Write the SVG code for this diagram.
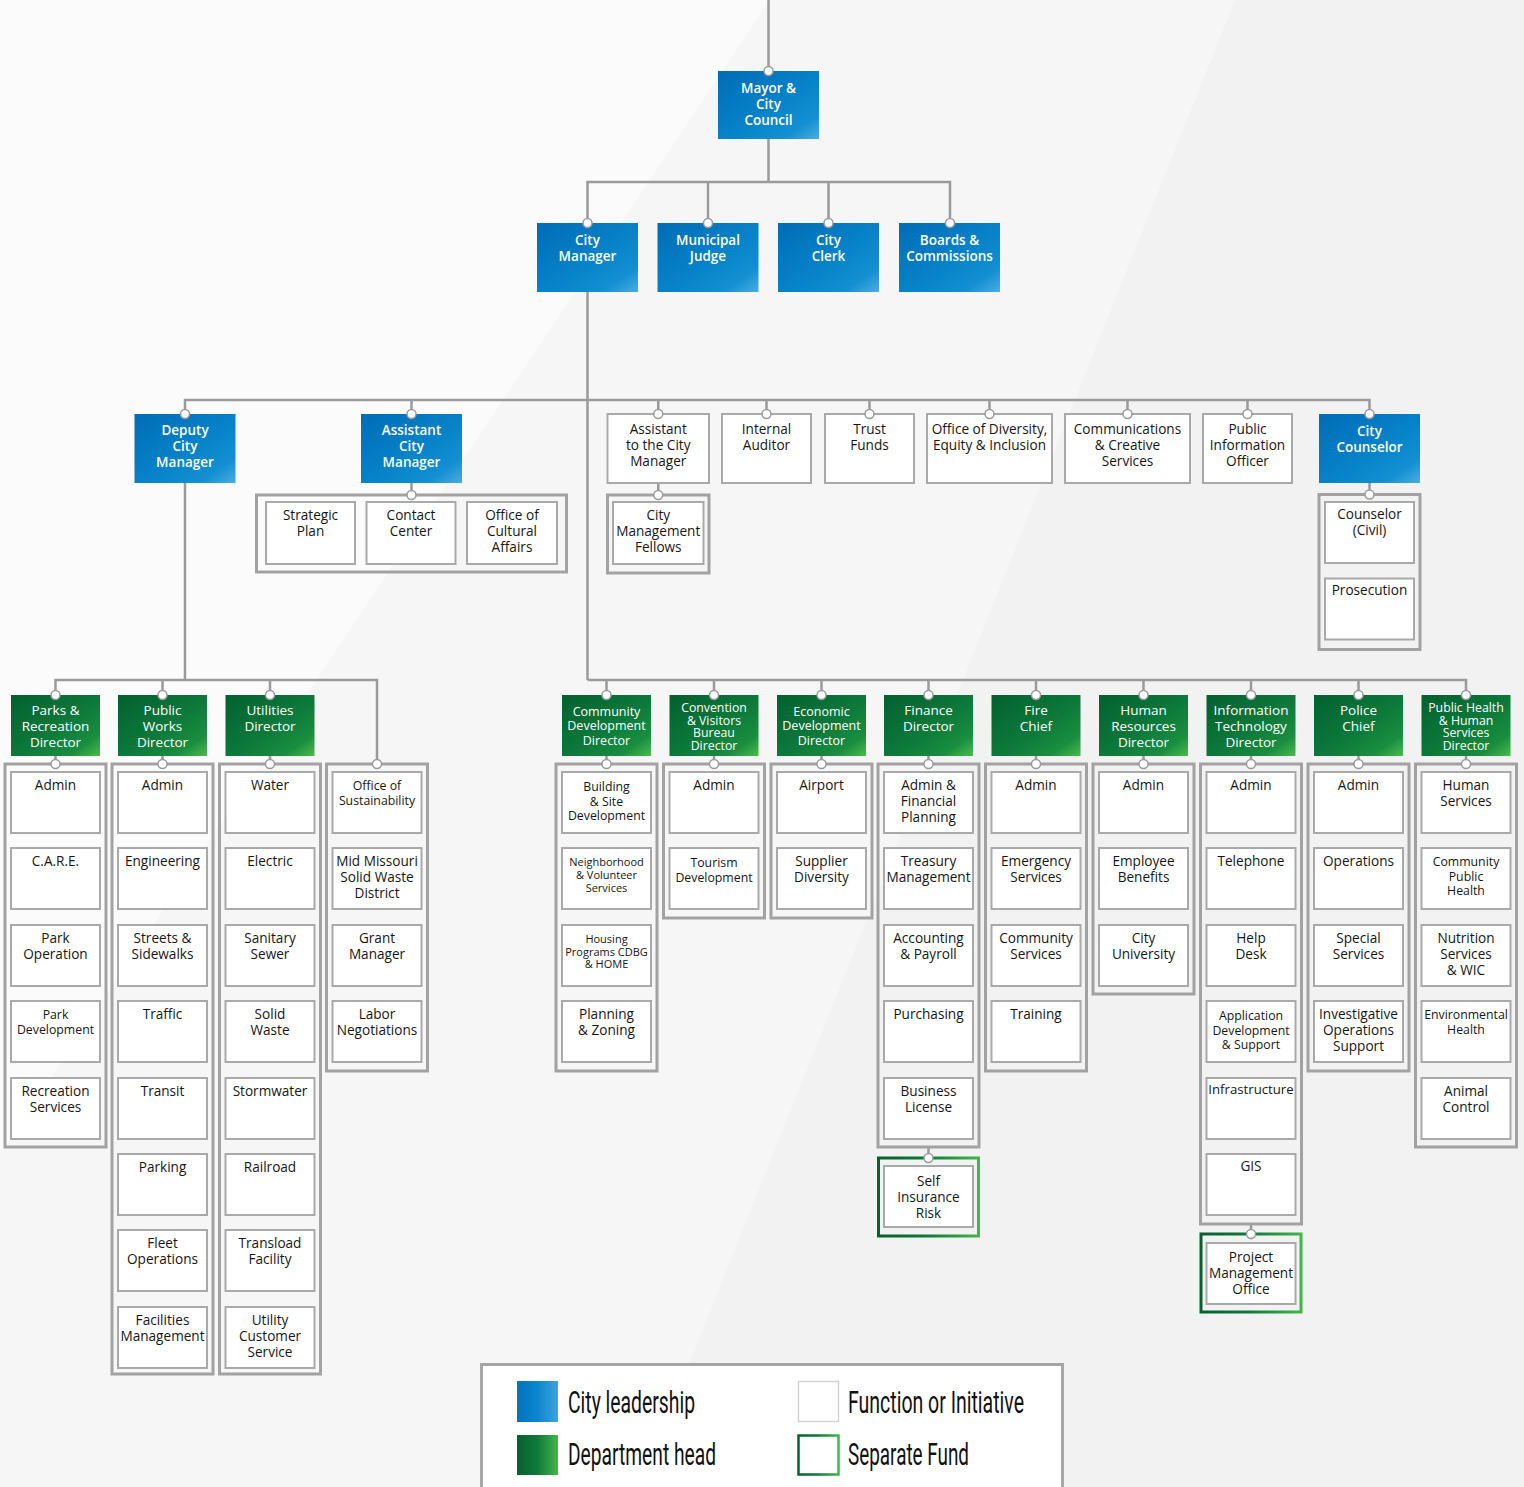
<svg xmlns="http://www.w3.org/2000/svg" width="1524" height="1487" viewBox="0 0 1524 1487">
<defs>
<linearGradient id="gb" x1="0" y1="0" x2="1" y2="1">
<stop offset="0" stop-color="#006cb6"/><stop offset="0.55" stop-color="#0783c9"/><stop offset="0.82" stop-color="#1390d2"/><stop offset="1" stop-color="#4badE2"/>
</linearGradient>
<linearGradient id="gg" x1="0" y1="0" x2="1" y2="1">
<stop offset="0" stop-color="#03602f"/><stop offset="0.55" stop-color="#0d7a3b"/><stop offset="0.82" stop-color="#1a8e3f"/><stop offset="1" stop-color="#4cbb4e"/>
</linearGradient>
<linearGradient id="gbh" x1="0" y1="0" x2="1" y2="0">
<stop offset="0" stop-color="#0073be"/><stop offset="0.5" stop-color="#0a86cc"/><stop offset="1" stop-color="#3fa3de"/>
</linearGradient>
<linearGradient id="ggh" x1="0" y1="0" x2="1" y2="0">
<stop offset="0" stop-color="#06612f"/><stop offset="0.5" stop-color="#0f7a3a"/><stop offset="1" stop-color="#42b64b"/>
</linearGradient>
<style>
.ln{stroke:#9a9a9a;stroke-width:2.5;fill:none}
.dot{fill:#fff;stroke:#9a9a9a;stroke-width:1.5}
.blue{fill:url(#gb)}
.green{fill:url(#gg)}
.box{fill:#fff;stroke:#a9a9a9;stroke-width:2}
.cont{fill:none;stroke:#a2a2a2;stroke-width:3}
.fund{fill:none;stroke:url(#ggh);stroke-width:3}
text{font-family:"Open Sans","Noto Sans","DejaVu Sans",sans-serif;text-anchor:middle}
.hb{fill:#fff;font-size:13.5px;font-weight:600}
.hg{fill:#fff;font-size:13.5px;font-weight:500}
.hg2{fill:#fff;font-size:12.5px;font-weight:500}
.hg3{fill:#fff;font-size:12.3px;font-weight:500}
.t{fill:#161616;font-size:13.6px;font-weight:500}
.s{fill:#161616;font-size:12.3px;font-weight:500}
.xs{fill:#161616;font-size:11px;font-weight:500}
.lg{font-family:"Roboto","Liberation Sans",sans-serif;text-anchor:start;font-size:31px;fill:#111}
</style>
</defs>

<g id="background">
<rect x="0" y="0" width="1524" height="1487" fill="#f2f2f2"/>
<polygon points="770,0 1235,0 640,1487 0,1487 0,1155" fill="#f6f6f6"/>
<polygon points="0,0 770,0 0,1155" fill="#fbfbfb"/>
</g>

<g id="connectors">
<line class="ln" x1="768.5" y1="0" x2="768.5" y2="71"/>
<line class="ln" x1="768.5" y1="139" x2="768.5" y2="182"/>
<polyline class="ln" points="587.5,223 587.5,182 950,182 950,223"/>
<line class="ln" x1="708" y1="182" x2="708" y2="223"/>
<line class="ln" x1="828.5" y1="182" x2="828.5" y2="223"/>
<line class="ln" x1="587.5" y1="292" x2="587.5" y2="680"/>
<polyline class="ln" points="185,414 185,400 1369.5,400 1369.5,414"/>
<line class="ln" x1="411.5" y1="400" x2="411.5" y2="414"/>
<line class="ln" x1="658.25" y1="400" x2="658.25" y2="414"/>
<line class="ln" x1="766.5" y1="400" x2="766.5" y2="414"/>
<line class="ln" x1="869.5" y1="400" x2="869.5" y2="414"/>
<line class="ln" x1="989.5" y1="400" x2="989.5" y2="414"/>
<line class="ln" x1="1127.5" y1="400" x2="1127.5" y2="414"/>
<line class="ln" x1="1247.5" y1="400" x2="1247.5" y2="414"/>
<line class="ln" x1="411.5" y1="483" x2="411.5" y2="495"/>
<line class="ln" x1="658.25" y1="483" x2="658.25" y2="495"/>
<line class="ln" x1="1369.5" y1="483" x2="1369.5" y2="494.5"/>
<line class="ln" x1="185" y1="483" x2="185" y2="680"/>
<polyline class="ln" points="55.5,695 55.5,680 377,680 377,764"/>
<line class="ln" x1="162.5" y1="680" x2="162.5" y2="695"/>
<line class="ln" x1="270" y1="680" x2="270" y2="695"/>
<polyline class="ln" points="587.5,680 1466,680 1466,695"/>
<line class="ln" x1="606.5" y1="680" x2="606.5" y2="695"/>
<line class="ln" x1="714" y1="680" x2="714" y2="695"/>
<line class="ln" x1="821.5" y1="680" x2="821.5" y2="695"/>
<line class="ln" x1="928.5" y1="680" x2="928.5" y2="695"/>
<line class="ln" x1="1036" y1="680" x2="1036" y2="695"/>
<line class="ln" x1="1143.5" y1="680" x2="1143.5" y2="695"/>
<line class="ln" x1="1251" y1="680" x2="1251" y2="695"/>
<line class="ln" x1="1358.5" y1="680" x2="1358.5" y2="695"/>
<line class="ln" x1="55.5" y1="756" x2="55.5" y2="764"/>
<line class="ln" x1="162.5" y1="756" x2="162.5" y2="764"/>
<line class="ln" x1="270" y1="756" x2="270" y2="764"/>
<line class="ln" x1="606.5" y1="756" x2="606.5" y2="764"/>
<line class="ln" x1="714" y1="756" x2="714" y2="764"/>
<line class="ln" x1="821.5" y1="756" x2="821.5" y2="764"/>
<line class="ln" x1="928.5" y1="756" x2="928.5" y2="764"/>
<line class="ln" x1="1036" y1="756" x2="1036" y2="764"/>
<line class="ln" x1="1143.5" y1="756" x2="1143.5" y2="764"/>
<line class="ln" x1="1251" y1="756" x2="1251" y2="764"/>
<line class="ln" x1="1358.5" y1="756" x2="1358.5" y2="764"/>
<line class="ln" x1="1466" y1="756" x2="1466" y2="764"/>
<line class="ln" x1="928.5" y1="1147" x2="928.5" y2="1158"/>
<line class="ln" x1="1251" y1="1224" x2="1251" y2="1234"/>
</g>

<g id="mayor"><rect class="blue" x="718" y="71" width="101" height="68"/>
<text class="hb"><tspan x="768.5" y="93">Mayor &amp;</tspan><tspan x="768.5" y="109">City</tspan><tspan x="768.5" y="125">Council</tspan></text></g>
<g id="city-manager"><rect class="blue" x="537" y="223" width="101" height="69"/>
<text class="hb"><tspan x="587.5" y="245">City</tspan><tspan x="587.5" y="261">Manager</tspan></text></g>
<g id="municipal-judge"><rect class="blue" x="657.5" y="223" width="101" height="69"/>
<text class="hb"><tspan x="708" y="245">Municipal</tspan><tspan x="708" y="261">Judge</tspan></text></g>
<g id="city-clerk"><rect class="blue" x="778" y="223" width="101" height="69"/>
<text class="hb"><tspan x="828.5" y="245">City</tspan><tspan x="828.5" y="261">Clerk</tspan></text></g>
<g id="boards"><rect class="blue" x="899" y="223" width="101" height="69"/>
<text class="hb"><tspan x="949.5" y="245">Boards &amp;</tspan><tspan x="949.5" y="261">Commissions</tspan></text></g>

<g id="deputy-cm"><rect class="blue" x="134.5" y="414" width="101" height="69"/>
<text class="hb"><tspan x="185" y="435">Deputy</tspan><tspan x="185" y="451">City</tspan><tspan x="185" y="467">Manager</tspan></text></g>
<g id="assistant-cm"><rect class="blue" x="361" y="414" width="101" height="69"/>
<text class="hb"><tspan x="411.5" y="435">Assistant</tspan><tspan x="411.5" y="451">City</tspan><tspan x="411.5" y="467">Manager</tspan></text></g>
<g id="acm-functions"><rect class="cont" x="256.5" y="495" width="310" height="77"/>
<rect class="box" x="266" y="502" width="89" height="62"/><text class="t"><tspan x="310.5" y="519.5">Strategic</tspan><tspan x="310.5" y="535.5">Plan</tspan></text>
<rect class="box" x="366.5" y="502" width="89" height="62"/><text class="t"><tspan x="411" y="519.5">Contact</tspan><tspan x="411" y="535.5">Center</tspan></text>
<rect class="box" x="467" y="502" width="90" height="62"/><text class="t"><tspan x="512" y="519.5">Office of</tspan><tspan x="512" y="535.5">Cultural</tspan><tspan x="512" y="551.5">Affairs</tspan></text></g>

<g id="asst-to-cm"><rect class="box" x="607.5" y="414" width="101.5" height="69"/>
<text class="t"><tspan x="658.25" y="434">Assistant</tspan><tspan x="658.25" y="450">to the City</tspan><tspan x="658.25" y="466">Manager</tspan></text></g>
<g id="fellows"><rect class="cont" x="607.5" y="495" width="101.5" height="78"/>
<rect class="box" x="613" y="502" width="90.5" height="62"/><text class="t"><tspan x="658.25" y="519.5">City</tspan><tspan x="658.25" y="535.5">Management</tspan><tspan x="658.25" y="551.5">Fellows</tspan></text></g>
<g id="internal-auditor"><rect class="box" x="722" y="414" width="89" height="69"/>
<text class="t"><tspan x="766.5" y="434">Internal</tspan><tspan x="766.5" y="450">Auditor</tspan></text></g>
<g id="trust-funds"><rect class="box" x="825" y="414" width="89" height="69"/>
<text class="t"><tspan x="869.5" y="434">Trust</tspan><tspan x="869.5" y="450">Funds</tspan></text></g>
<g id="odei"><rect class="box" x="927" y="414" width="125" height="69"/>
<text class="t"><tspan x="989.5" y="434">Office of Diversity,</tspan><tspan x="989.5" y="450">Equity &amp; Inclusion</tspan></text></g>
<g id="communications"><rect class="box" x="1065" y="414" width="125" height="69"/>
<text class="t"><tspan x="1127.5" y="434">Communications</tspan><tspan x="1127.5" y="450">&amp; Creative</tspan><tspan x="1127.5" y="466">Services</tspan></text></g>
<g id="pio"><rect class="box" x="1203" y="414" width="89" height="69"/>
<text class="t"><tspan x="1247.5" y="434">Public</tspan><tspan x="1247.5" y="450">Information</tspan><tspan x="1247.5" y="466">Officer</tspan></text></g>
<g id="city-counselor"><rect class="blue" x="1319" y="414" width="101" height="69"/>
<text class="hb"><tspan x="1369.5" y="435.5">City</tspan><tspan x="1369.5" y="451.5">Counselor</tspan></text></g>
<g id="counselor-functions"><rect class="cont" x="1319" y="494.5" width="101" height="155"/>
<rect class="box" x="1325" y="502" width="89" height="61"/><text class="t"><tspan x="1369.5" y="519">Counselor</tspan><tspan x="1369.5" y="535">(Civil)</tspan></text>
<rect class="box" x="1325" y="578.5" width="89" height="61"/><text class="t" x="1369.5" y="595">Prosecution</text></g>

<!-- Left departments -->
<g id="parks-dir"><rect class="green" x="11" y="695" width="89" height="61"/>
<text class="hg"><tspan x="55.5" y="715">Parks &amp;</tspan><tspan x="55.5" y="731">Recreation</tspan><tspan x="55.5" y="747">Director</tspan></text></g>
<g id="parks-functions"><rect class="cont" x="5" y="764" width="101" height="383"/>
<rect class="box" x="11" y="772" width="89" height="61"/><text class="t" x="55.5" y="790">Admin</text>
<rect class="box" x="11" y="848" width="89" height="61"/><text class="t" x="55.5" y="866">C.A.R.E.</text>
<rect class="box" x="11" y="925" width="89" height="61"/><text class="t"><tspan x="55.5" y="943">Park</tspan><tspan x="55.5" y="959">Operation</tspan></text>
<rect class="box" x="11" y="1001" width="89" height="61"/><text class="s"><tspan x="55.5" y="1019">Park</tspan><tspan x="55.5" y="1033.5">Development</tspan></text>
<rect class="box" x="11" y="1078" width="89" height="61"/><text class="t"><tspan x="55.5" y="1096">Recreation</tspan><tspan x="55.5" y="1112">Services</tspan></text></g>

<g id="public-works-dir"><rect class="green" x="118" y="695" width="89" height="61"/>
<text class="hg"><tspan x="162.5" y="715">Public</tspan><tspan x="162.5" y="731">Works</tspan><tspan x="162.5" y="747">Director</tspan></text></g>
<g id="public-works-functions"><rect class="cont" x="112" y="764" width="101" height="610"/>
<rect class="box" x="118" y="772" width="89" height="61"/><text class="t" x="162.5" y="790">Admin</text>
<rect class="box" x="118" y="848" width="89" height="61"/><text class="t" x="162.5" y="866">Engineering</text>
<rect class="box" x="118" y="925" width="89" height="61"/><text class="t"><tspan x="162.5" y="943">Streets &amp;</tspan><tspan x="162.5" y="959">Sidewalks</tspan></text>
<rect class="box" x="118" y="1001" width="89" height="61"/><text class="t" x="162.5" y="1019">Traffic</text>
<rect class="box" x="118" y="1078" width="89" height="61"/><text class="t" x="162.5" y="1096">Transit</text>
<rect class="box" x="118" y="1154" width="89" height="61"/><text class="t" x="162.5" y="1172">Parking</text>
<rect class="box" x="118" y="1230" width="89" height="61"/><text class="t"><tspan x="162.5" y="1248">Fleet</tspan><tspan x="162.5" y="1264">Operations</tspan></text>
<rect class="box" x="118" y="1307" width="89" height="61"/><text class="t"><tspan x="162.5" y="1325">Facilities</tspan><tspan x="162.5" y="1341">Management</tspan></text></g>

<g id="utilities-dir"><rect class="green" x="225.5" y="695" width="89" height="61"/>
<text class="hg"><tspan x="270" y="715">Utilities</tspan><tspan x="270" y="731">Director</tspan></text></g>
<g id="utilities-functions"><rect class="cont" x="219.5" y="764" width="101" height="610"/>
<rect class="box" x="225.5" y="772" width="89" height="61"/><text class="t" x="270" y="790">Water</text>
<rect class="box" x="225.5" y="848" width="89" height="61"/><text class="t" x="270" y="866">Electric</text>
<rect class="box" x="225.5" y="925" width="89" height="61"/><text class="t"><tspan x="270" y="943">Sanitary</tspan><tspan x="270" y="959">Sewer</tspan></text>
<rect class="box" x="225.5" y="1001" width="89" height="61"/><text class="t"><tspan x="270" y="1019">Solid</tspan><tspan x="270" y="1035">Waste</tspan></text>
<rect class="box" x="225.5" y="1078" width="89" height="61"/><text class="t" x="270" y="1096">Stormwater</text>
<rect class="box" x="225.5" y="1154" width="89" height="61"/><text class="t" x="270" y="1172">Railroad</text>
<rect class="box" x="225.5" y="1230" width="89" height="61"/><text class="t"><tspan x="270" y="1248">Transload</tspan><tspan x="270" y="1264">Facility</tspan></text>
<rect class="box" x="225.5" y="1307" width="89" height="61"/><text class="t"><tspan x="270" y="1325">Utility</tspan><tspan x="270" y="1341">Customer</tspan><tspan x="270" y="1357">Service</tspan></text></g>

<g id="dcm-functions"><rect class="cont" x="326.5" y="764" width="101" height="307"/>
<rect class="box" x="332.5" y="772" width="89" height="61"/><text class="s"><tspan x="377" y="790">Office of</tspan><tspan x="377" y="805">Sustainability</tspan></text>
<rect class="box" x="332.5" y="848" width="89" height="61"/><text class="t"><tspan x="377" y="866">Mid Missouri</tspan><tspan x="377" y="882">Solid Waste</tspan><tspan x="377" y="898">District</tspan></text>
<rect class="box" x="332.5" y="925" width="89" height="61"/><text class="t"><tspan x="377" y="943">Grant</tspan><tspan x="377" y="959">Manager</tspan></text>
<rect class="box" x="332.5" y="1001" width="89" height="61"/><text class="t"><tspan x="377" y="1019">Labor</tspan><tspan x="377" y="1035">Negotiations</tspan></text></g>

<!-- Right departments -->
<g id="community-dev-dir"><rect class="green" x="562" y="695" width="89" height="61"/>
<text class="hg2"><tspan x="606.5" y="715.5">Community</tspan><tspan x="606.5" y="730.3">Development</tspan><tspan x="606.5" y="745">Director</tspan></text></g>
<g id="community-dev-functions"><rect class="cont" x="556" y="764" width="101" height="307"/>
<rect class="box" x="562" y="772" width="89" height="61"/><text class="s"><tspan x="606.5" y="791">Building</tspan><tspan x="606.5" y="805.5">&amp; Site</tspan><tspan x="606.5" y="820">Development</tspan></text>
<rect class="box" x="562" y="848" width="89" height="61"/><text class="xs"><tspan x="606.5" y="866">Neighborhood</tspan><tspan x="606.5" y="879">&amp; Volunteer</tspan><tspan x="606.5" y="892">Services</tspan></text>
<rect class="box" x="562" y="925" width="89" height="61"/><text class="xs"><tspan x="606.5" y="943">Housing</tspan><tspan x="606.5" y="955.5">Programs CDBG</tspan><tspan x="606.5" y="968">&amp; HOME</tspan></text>
<rect class="box" x="562" y="1001" width="89" height="61"/><text class="t"><tspan x="606.5" y="1019">Planning</tspan><tspan x="606.5" y="1035">&amp; Zoning</tspan></text></g>

<g id="cvb-dir"><rect class="green" x="669.5" y="695" width="89" height="61"/>
<text class="hg3"><tspan x="714" y="712">Convention</tspan><tspan x="714" y="724.5">&amp; Visitors</tspan><tspan x="714" y="737">Bureau</tspan><tspan x="714" y="749.5">Director</tspan></text></g>
<g id="cvb-functions"><rect class="cont" x="663.5" y="764" width="101" height="154"/>
<rect class="box" x="669.5" y="772" width="89" height="61"/><text class="t" x="714" y="790">Admin</text>
<rect class="box" x="669.5" y="848" width="89" height="61"/><text class="s"><tspan x="714" y="867">Tourism</tspan><tspan x="714" y="881.5">Development</tspan></text></g>

<g id="econ-dev-dir"><rect class="green" x="777" y="695" width="89" height="61"/>
<text class="hg2"><tspan x="821.5" y="715.5">Economic</tspan><tspan x="821.5" y="730.3">Development</tspan><tspan x="821.5" y="745">Director</tspan></text></g>
<g id="econ-dev-functions"><rect class="cont" x="771" y="764" width="101" height="154"/>
<rect class="box" x="777" y="772" width="89" height="61"/><text class="t" x="821.5" y="790">Airport</text>
<rect class="box" x="777" y="848" width="89" height="61"/><text class="t"><tspan x="821.5" y="866">Supplier</tspan><tspan x="821.5" y="882">Diversity</tspan></text></g>

<g id="finance-dir"><rect class="green" x="884" y="695" width="89" height="61"/>
<text class="hg"><tspan x="928.5" y="715">Finance</tspan><tspan x="928.5" y="731">Director</tspan></text></g>
<g id="finance-functions"><rect class="cont" x="878" y="764" width="101" height="383"/>
<rect class="box" x="884" y="772" width="89" height="61"/><text class="t"><tspan x="928.5" y="790">Admin &amp;</tspan><tspan x="928.5" y="806">Financial</tspan><tspan x="928.5" y="822">Planning</tspan></text>
<rect class="box" x="884" y="848" width="89" height="61"/><text class="t"><tspan x="928.5" y="866">Treasury</tspan><tspan x="928.5" y="882">Management</tspan></text>
<rect class="box" x="884" y="925" width="89" height="61"/><text class="t"><tspan x="928.5" y="943">Accounting</tspan><tspan x="928.5" y="959">&amp; Payroll</tspan></text>
<rect class="box" x="884" y="1001" width="89" height="61"/><text class="t" x="928.5" y="1019">Purchasing</text>
<rect class="box" x="884" y="1078" width="89" height="61"/><text class="t"><tspan x="928.5" y="1096">Business</tspan><tspan x="928.5" y="1112">License</tspan></text></g>
<g id="self-insurance"><rect class="fund" x="878.5" y="1158" width="100" height="78"/>
<rect class="box" x="884" y="1166" width="89" height="61"/><text class="t"><tspan x="928.5" y="1186">Self</tspan><tspan x="928.5" y="1202">Insurance</tspan><tspan x="928.5" y="1218">Risk</tspan></text></g>

<g id="fire-chief"><rect class="green" x="991.5" y="695" width="89" height="61"/>
<text class="hg"><tspan x="1036" y="715">Fire</tspan><tspan x="1036" y="731">Chief</tspan></text></g>
<g id="fire-functions"><rect class="cont" x="985.5" y="764" width="101" height="307"/>
<rect class="box" x="991.5" y="772" width="89" height="61"/><text class="t" x="1036" y="790">Admin</text>
<rect class="box" x="991.5" y="848" width="89" height="61"/><text class="t"><tspan x="1036" y="866">Emergency</tspan><tspan x="1036" y="882">Services</tspan></text>
<rect class="box" x="991.5" y="925" width="89" height="61"/><text class="t"><tspan x="1036" y="943">Community</tspan><tspan x="1036" y="959">Services</tspan></text>
<rect class="box" x="991.5" y="1001" width="89" height="61"/><text class="t" x="1036" y="1019">Training</text></g>

<g id="hr-dir"><rect class="green" x="1099" y="695" width="89" height="61"/>
<text class="hg"><tspan x="1143.5" y="715">Human</tspan><tspan x="1143.5" y="731">Resources</tspan><tspan x="1143.5" y="747">Director</tspan></text></g>
<g id="hr-functions"><rect class="cont" x="1093" y="764" width="101" height="230"/>
<rect class="box" x="1099" y="772" width="89" height="61"/><text class="t" x="1143.5" y="790">Admin</text>
<rect class="box" x="1099" y="848" width="89" height="61"/><text class="t"><tspan x="1143.5" y="866">Employee</tspan><tspan x="1143.5" y="882">Benefits</tspan></text>
<rect class="box" x="1099" y="925" width="89" height="61"/><text class="t"><tspan x="1143.5" y="943">City</tspan><tspan x="1143.5" y="959">University</tspan></text></g>

<g id="it-dir"><rect class="green" x="1206.5" y="695" width="89" height="61"/>
<text class="hg"><tspan x="1251" y="715">Information</tspan><tspan x="1251" y="731">Technology</tspan><tspan x="1251" y="747">Director</tspan></text></g>
<g id="it-functions"><rect class="cont" x="1200.5" y="764" width="101" height="460"/>
<rect class="box" x="1206.5" y="772" width="89" height="61"/><text class="t" x="1251" y="790">Admin</text>
<rect class="box" x="1206.5" y="848" width="89" height="61"/><text class="t" x="1251" y="866">Telephone</text>
<rect class="box" x="1206.5" y="925" width="89" height="61"/><text class="t"><tspan x="1251" y="943">Help</tspan><tspan x="1251" y="959">Desk</tspan></text>
<rect class="box" x="1206.5" y="1001" width="89" height="61"/><text class="s"><tspan x="1251" y="1020">Application</tspan><tspan x="1251" y="1034.5">Development</tspan><tspan x="1251" y="1049">&amp; Support</tspan></text>
<rect class="box" x="1206.5" y="1078" width="89" height="61"/><text class="t" x="1251" y="1094" style="font-size:13.2px">Infrastructure</text>
<rect class="box" x="1206.5" y="1154" width="89" height="61"/><text class="t" x="1251" y="1171">GIS</text></g>
<g id="pmo"><rect class="fund" x="1201" y="1234" width="100" height="78"/>
<rect class="box" x="1206.5" y="1243" width="89" height="61"/><text class="t"><tspan x="1251" y="1262">Project</tspan><tspan x="1251" y="1278">Management</tspan><tspan x="1251" y="1294">Office</tspan></text></g>

<g id="police-chief"><rect class="green" x="1314" y="695" width="89" height="61"/>
<text class="hg"><tspan x="1358.5" y="715">Police</tspan><tspan x="1358.5" y="731">Chief</tspan></text></g>
<g id="police-functions"><rect class="cont" x="1308" y="764" width="101" height="307"/>
<rect class="box" x="1314" y="772" width="89" height="61"/><text class="t" x="1358.5" y="790">Admin</text>
<rect class="box" x="1314" y="848" width="89" height="61"/><text class="t" x="1358.5" y="866">Operations</text>
<rect class="box" x="1314" y="925" width="89" height="61"/><text class="t"><tspan x="1358.5" y="943">Special</tspan><tspan x="1358.5" y="959">Services</tspan></text>
<rect class="box" x="1314" y="1001" width="89" height="61"/><text class="t"><tspan x="1358.5" y="1019">Investigative</tspan><tspan x="1358.5" y="1035">Operations</tspan><tspan x="1358.5" y="1051">Support</tspan></text></g>

<g id="public-health-dir"><rect class="green" x="1421.5" y="695" width="89" height="61"/>
<text class="hg3"><tspan x="1466" y="712">Public Health</tspan><tspan x="1466" y="724.5">&amp; Human</tspan><tspan x="1466" y="737">Services</tspan><tspan x="1466" y="749.5">Director</tspan></text></g>
<g id="public-health-functions"><rect class="cont" x="1415.5" y="764" width="101" height="383"/>
<rect class="box" x="1421.5" y="772" width="89" height="61"/><text class="t"><tspan x="1466" y="790">Human</tspan><tspan x="1466" y="806">Services</tspan></text>
<rect class="box" x="1421.5" y="848" width="89" height="61"/><text class="s"><tspan x="1466" y="866">Community</tspan><tspan x="1466" y="880.5">Public</tspan><tspan x="1466" y="895">Health</tspan></text>
<rect class="box" x="1421.5" y="925" width="89" height="61"/><text class="t"><tspan x="1466" y="943">Nutrition</tspan><tspan x="1466" y="959">Services</tspan><tspan x="1466" y="975">&amp; WIC</tspan></text>
<rect class="box" x="1421.5" y="1001" width="89" height="61"/><text class="s"><tspan x="1466" y="1019">Environmental</tspan><tspan x="1466" y="1033.5">Health</tspan></text>
<rect class="box" x="1421.5" y="1078" width="89" height="61"/><text class="t"><tspan x="1466" y="1096">Animal</tspan><tspan x="1466" y="1112">Control</tspan></text></g>

<g id="connector-dots">
<circle class="dot" cx="768.5" cy="71" r="4.5"/>
<circle class="dot" cx="587.5" cy="223" r="4.5"/><circle class="dot" cx="708" cy="223" r="4.5"/><circle class="dot" cx="828.5" cy="223" r="4.5"/><circle class="dot" cx="950" cy="223" r="4.5"/>
<circle class="dot" cx="185" cy="414" r="4.5"/><circle class="dot" cx="411.5" cy="414" r="4.5"/><circle class="dot" cx="658.25" cy="414" r="4.5"/><circle class="dot" cx="766.5" cy="414" r="4.5"/><circle class="dot" cx="869.5" cy="414" r="4.5"/><circle class="dot" cx="989.5" cy="414" r="4.5"/><circle class="dot" cx="1127.5" cy="414" r="4.5"/><circle class="dot" cx="1247.5" cy="414" r="4.5"/><circle class="dot" cx="1369.5" cy="414" r="4.5"/>
<circle class="dot" cx="411.5" cy="495" r="4.5"/><circle class="dot" cx="658.25" cy="495" r="4.5"/><circle class="dot" cx="1369.5" cy="494.5" r="4.5"/>
<circle class="dot" cx="55.5" cy="695" r="4.5"/><circle class="dot" cx="162.5" cy="695" r="4.5"/><circle class="dot" cx="270" cy="695" r="4.5"/>
<circle class="dot" cx="606.5" cy="695" r="4.5"/><circle class="dot" cx="714" cy="695" r="4.5"/><circle class="dot" cx="821.5" cy="695" r="4.5"/><circle class="dot" cx="928.5" cy="695" r="4.5"/><circle class="dot" cx="1036" cy="695" r="4.5"/><circle class="dot" cx="1143.5" cy="695" r="4.5"/><circle class="dot" cx="1251" cy="695" r="4.5"/><circle class="dot" cx="1358.5" cy="695" r="4.5"/><circle class="dot" cx="1466" cy="695" r="4.5"/>
<circle class="dot" cx="55.5" cy="764" r="4.5"/><circle class="dot" cx="162.5" cy="764" r="4.5"/><circle class="dot" cx="270" cy="764" r="4.5"/><circle class="dot" cx="377" cy="764" r="4.5"/>
<circle class="dot" cx="606.5" cy="764" r="4.5"/><circle class="dot" cx="714" cy="764" r="4.5"/><circle class="dot" cx="821.5" cy="764" r="4.5"/><circle class="dot" cx="928.5" cy="764" r="4.5"/><circle class="dot" cx="1036" cy="764" r="4.5"/><circle class="dot" cx="1143.5" cy="764" r="4.5"/><circle class="dot" cx="1251" cy="764" r="4.5"/><circle class="dot" cx="1358.5" cy="764" r="4.5"/><circle class="dot" cx="1466" cy="764" r="4.5"/>
<circle class="dot" cx="928.5" cy="1158" r="4.5"/><circle class="dot" cx="1251" cy="1234" r="4.5"/>
</g>

<g id="legend">
<rect x="481.5" y="1364.5" width="581" height="130" fill="#fff" stroke="#a5a5a5" stroke-width="3"/>
<rect x="517" y="1381" width="41" height="41" fill="url(#gbh)"/>
<rect x="517" y="1435" width="41" height="40" fill="url(#ggh)"/>
<rect x="798.5" y="1381.5" width="40" height="40" fill="#fff" stroke="#d2d2d2" stroke-width="1.5"/>
<rect x="798.5" y="1435.5" width="40" height="39" fill="#fff" stroke="url(#ggh)" stroke-width="2.5"/>
<text class="lg" x="568" y="1413" textLength="127" lengthAdjust="spacingAndGlyphs">City leadership</text>
<text class="lg" x="568" y="1465" textLength="148" lengthAdjust="spacingAndGlyphs">Department head</text>
<text class="lg" x="848" y="1413" textLength="176" lengthAdjust="spacingAndGlyphs">Function or Initiative</text>
<text class="lg" x="848" y="1465" textLength="121" lengthAdjust="spacingAndGlyphs">Separate Fund</text>
</g>
</svg>
